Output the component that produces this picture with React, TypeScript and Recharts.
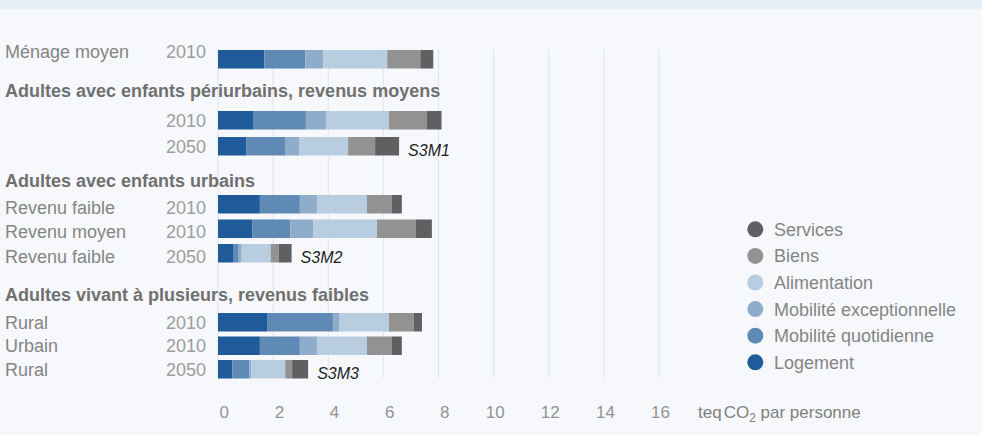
import React from 'react';
import { BarChart, Bar, XAxis, YAxis, CartesianGrid, LabelList, Label } from 'recharts';

// Emission categories, stacked left to right
const SERIES_NAMES = ['Logement', 'Mobilité quotidienne', 'Mobilité exceptionnelle', 'Alimentation', 'Biens', 'Services'];

// One entry per bar row
const ROW_LABELS = ['Ménage moyen', '', '', 'Revenu faible', 'Revenu moyen', 'Revenu faible', 'Rural', 'Urbain', 'Rural'];
const ROW_YEARS = ['2010', '2010', '2050', '2010', '2010', '2050', '2010', '2010', '2050'];
const ROW_GROUP = [0, 1, 1, 2, 2, 2, 3, 3, 3];
const ROW_SCENARIO = ['', '', 'S3M1', '', '', 'S3M2', '', '', 'S3M3'];

const GROUP_TITLES = [
  '',
  'Adultes avec enfants périurbains, revenus moyens',
  'Adultes avec enfants urbains',
  'Adultes vivant à plusieurs, revenus faibles',
];

// teqCO2 per person
const LOGEMENT = [1.68, 1.27, 1.02, 1.52, 1.24, 0.57, 1.78, 1.52, 0.52];
const MOBILITE_QUOTIDIENNE = [1.49, 1.92, 1.41, 1.45, 1.38, 0.18, 2.39, 1.45, 0.62];
const MOBILITE_EXCEPTIONNELLE = [0.65, 0.73, 0.51, 0.62, 0.83, 0.11, 0.22, 0.62, 0.07];
const ALIMENTATION = [2.32, 2.28, 1.78, 1.81, 2.32, 1.05, 1.81, 1.81, 1.23];
const BIENS = [1.2, 1.38, 0.98, 0.91, 1.41, 0.29, 0.91, 0.91, 0.25];
const SERVICES = [0.47, 0.53, 0.87, 0.36, 0.58, 0.47, 0.29, 0.36, 0.58];

const X_TICKS = [0, 2, 4, 6, 8, 10, 12, 14, 16];

const SERIES_VALUES = [LOGEMENT, MOBILITE_QUOTIDIENNE, MOBILITE_EXCEPTIONNELLE, ALIMENTATION, BIENS, SERVICES];
const SERIES_COLORS = ['#1f5b98', '#5f8ab6', '#8eadcb', '#b9cde0', '#929292', '#5f6062'];

const ROWS = ROW_LABELS.map((label, i) => {
  const row: Record<string, string | number> = {
    key: `r${i}`,
    label,
    year: ROW_YEARS[i],
    group: ROW_GROUP[i],
    scenario: ROW_SCENARIO[i],
  };
  SERIES_NAMES.forEach((name, k) => {
    row[name] = SERIES_VALUES[k][i];
  });
  return row;
});

// Layout
const W = 982;
const H = 435;
const PLOT_LEFT = 218;
const PLOT_RIGHT_MARGIN = 323;
const FONT = '"Liberation Sans", Arial, Helvetica, sans-serif';
const BAR_SIZE = 18.5;
const GROUP_PAD = 20; // room around each group's rows for its labels

// vertical placement of each group's band of rows, and label baseline shift
const GROUP_LAYOUT = [
  { top: 46.5, height: 24, labelDy: -1.2, titleY: 0 },
  { top: 107.4, height: 52, labelDy: 6.9, titleY: 96.7 },
  { top: 192.15, height: 73.5, labelDy: 9.6, titleY: 186.7 },
  { top: 309.95, height: 70.5, labelDy: 7.1, titleY: 300.7 },
];

const LEGEND_LAYOUT = { cx: 755.3, firstY: 229.3, step: 26.6, r: 8, textX: 774 };

const RowTick = (props: any) => {
  const { y, payload, labelDy } = props;
  const row = ROWS.find((r) => r.key === payload.value);
  if (!row) return null;
  return (
    <g>
      <text x={5} y={y + labelDy} fill="#858585" fontSize={18} fontFamily={FONT}>
        {row.label as string}
      </text>
      <text x={206} y={y + labelDy} textAnchor="end" fill="#9d9d9d" fontSize={18} fontFamily={FONT}>
        {row.year as string}
      </text>
    </g>
  );
};

const ScenarioLabel = (props: any) => {
  const { value } = props;
  if (!value) return null;
  const vb = props.viewBox && props.viewBox.width !== undefined ? props.viewBox : props;
  const x = Number(vb.x) + Number(vb.width) + 9;
  const y = Number(vb.y) + Number(vb.height) / 2 + 9.5;
  return (
    <text x={x} y={y} fill="#1e1e1e" fontSize={16} fontStyle="italic" fontFamily={FONT}>
      {value}
    </text>
  );
};

const XTick = (props: any) => {
  const { x, y, payload } = props;
  return (
    <text x={x + 11} y={y} dy={31.5} textAnchor="end" fill="#929292" fontSize={17} fontFamily={FONT}>
      {payload.value}
    </text>
  );
};

const UnitLabel = (props: any) => {
  const vb = props.viewBox || { x: PLOT_LEFT, y: 378, width: 441, height: 30 };
  const x = vb.x + vb.width + 39;
  return (
    <text x={x} y={417.5} fill="#808080" fontSize={17} fontFamily={FONT}>
      <tspan>teq</tspan>
      <tspan dx={2}>CO</tspan>
      <tspan fontSize={12} dy={4}>2</tspan>
      <tspan dy={-4}> par personne</tspan>
    </text>
  );
};

const GroupChart = ({ group }: { group: number }) => {
  const data = ROWS.filter((r) => r.group === group);
  const lay = GROUP_LAYOUT[group];
  return (
    <div style={{ position: 'absolute', left: 0, top: lay.top - GROUP_PAD }}>
      <BarChart
        width={W}
        height={lay.height + 2 * GROUP_PAD}
        data={data}
        layout="vertical"
        barCategoryGap={0}
        margin={{ top: GROUP_PAD, bottom: GROUP_PAD, left: PLOT_LEFT - 1, right: PLOT_RIGHT_MARGIN }}
      >
        <XAxis type="number" domain={[0, 16]} ticks={X_TICKS} allowDataOverflow hide />
        <YAxis
          type="category"
          dataKey="key"
          width={1}
          axisLine={false}
          tickLine={false}
          interval={0}
          tick={<RowTick labelDy={lay.labelDy} />}
        />
        {SERIES_NAMES.map((name, k) => (
          <Bar
            key={name}
            dataKey={name}
            stackId="total"
            fill={SERIES_COLORS[k]}
            barSize={BAR_SIZE}
            isAnimationActive={false}
          >
            {k === SERIES_NAMES.length - 1 && <LabelList dataKey="scenario" content={ScenarioLabel} />}
          </Bar>
        ))}
      </BarChart>
    </div>
  );
};

export default function App() {
  return (
    <div
      style={{
        position: 'absolute',
        left: 0,
        top: 0,
        width: W,
        height: H,
        background: '#f6f8fb',
        overflow: 'hidden',
        fontFamily: FONT,
      }}
    >
      <style>{'body{margin:0;}'}</style>
      <div style={{ position: 'absolute', left: 0, top: 0, width: W, height: 9, background: '#e7eef6' }} />

      {/* grid and value axis shared by all groups */}
      <div style={{ position: 'absolute', left: 0, top: 0 }}>
        <BarChart
          width={W}
          height={H}
          data={ROWS}
          layout="vertical"
          margin={{ top: 49, bottom: 27, left: PLOT_LEFT, right: PLOT_RIGHT_MARGIN }}
        >
          <CartesianGrid horizontal={false} stroke="#dde5ee" />
          <XAxis
            type="number"
            domain={[0, 16]}
            ticks={X_TICKS}
            allowDataOverflow
            interval={0}
            axisLine={false}
            tickLine={false}
            height={30}
            tick={<XTick />}
          >
            <Label content={<UnitLabel />} />
          </XAxis>
          <YAxis type="category" dataKey="key" hide />
        </BarChart>
      </div>

      {GROUP_LAYOUT.map((_, g) => (
        <GroupChart key={g} group={g} />
      ))}

      {/* group titles and legend */}
      <svg width={W} height={H} style={{ position: 'absolute', left: 0, top: 0, pointerEvents: 'none' }}>
        {GROUP_TITLES.map((title, g) =>
          title ? (
            <text key={g} x={5} y={GROUP_LAYOUT[g].titleY} fill="#707070" fontSize={18} fontWeight="bold" fontFamily={FONT}>
              {title}
            </text>
          ) : null
        )}
        {SERIES_NAMES.slice()
          .reverse()
          .map((name, i) => {
            const color = SERIES_COLORS[SERIES_NAMES.length - 1 - i];
            const cy = LEGEND_LAYOUT.firstY + i * LEGEND_LAYOUT.step;
            return (
              <g key={name}>
                <circle cx={LEGEND_LAYOUT.cx} cy={cy} r={LEGEND_LAYOUT.r} fill={color} />
                <text x={LEGEND_LAYOUT.textX} y={cy + 6.4} fill="#858585" fontSize={18} fontFamily={FONT}>
                  {name}
                </text>
              </g>
            );
          })}
      </svg>
    </div>
  );
}
